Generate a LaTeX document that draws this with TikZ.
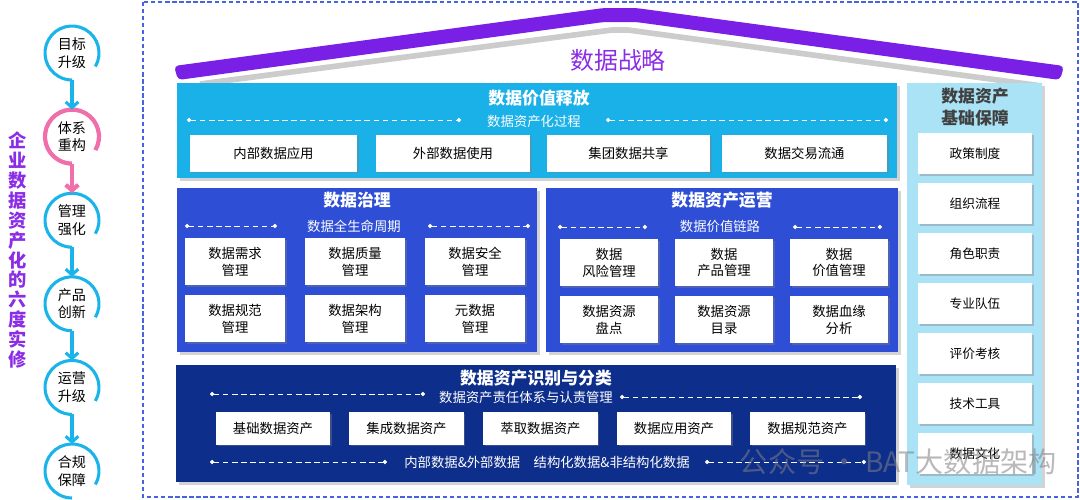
\documentclass[tikz,border=0pt]{standalone}
\usepackage{fontspec}
\setmainfont{Noto Sans CJK SC}
\usetikzlibrary{arrows.meta,shadows,positioning}

\definecolor{roofpurple}{RGB}{122,32,230}
\definecolor{titlepurple}{RGB}{140,45,230}
\definecolor{valuecyan}{RGB}{26,176,232}
\definecolor{govblue}{RGB}{46,78,214}
\definecolor{assetnavy}{RGB}{14,46,140}
\definecolor{baselight}{RGB}{170,226,246}
\definecolor{ringblue}{RGB}{27,180,234}
\definecolor{ringpink}{RGB}{240,110,170}
\definecolor{borderblue}{RGB}{70,100,225}

\begin{document}
\begin{tikzpicture}[
    x=0.025cm, y=-0.025cm,
    every node/.style={font=\fontsize{9.5}{12}\selectfont, text=black},
    >={Straight Barb[length=4pt,width=9pt]},
    panelhead/.style={text=white, font=\fontsize{12}{14}\selectfont\bfseries},
    flowlabel/.style={text=white, font=\fontsize{9.5}{12}\selectfont},
    flowline/.style={white, line width=0.7pt, dash pattern=on 4pt off 2.5pt,
        {Circle[length=3pt]}-{Circle[length=3pt]}},
    panelshadow/.style={drop shadow={shadow xshift=1.8pt, shadow yshift=-1.8pt, opacity=0.35}},
    item/.style={fill=white, align=center, inner sep=1pt,
        drop shadow={shadow xshift=1.2pt, shadow yshift=-1.2pt, opacity=0.4}},
    stage/.style={circle, minimum size=1.35cm, inner sep=0pt, outer sep=0pt,
        align=center, font=\fontsize{10}{12.5}\selectfont},
    ring/.style={line width=2.2pt, ringblue},
]
\useasboundingbox (0,0) rectangle (1080,500);

% outer frame
\draw[borderblue, line width=0.8pt, dash pattern=on 3pt off 2pt] (143,2) rectangle (1078,497);

% roof
\draw[gray!40, line width=4pt, line join=round] (200,84) -- (612,30) -- (628,30) -- (1042,86);
\fill[roofpurple, rounded corners=3pt] (174,66) -- (604,8) -- (636,8) -- (1064,66)
    -- (1060,80) -- (636,22) -- (604,22) -- (178,80) -- cycle;
\node[text=titlepurple, font=\fontsize{17}{20}\selectfont] (strategy) at (618,60) {数据战略};

% panels
\fill[valuecyan, panelshadow] (177,83) rectangle (897,178);
\fill[govblue, panelshadow] (177,188) rectangle (537,352);
\fill[govblue, panelshadow] (546,188) rectangle (898,352);
\fill[assetnavy, panelshadow] (176,365) rectangle (896,482);
\fill[baselight, panelshadow] (907,83) rectangle (1042,485);

% panel titles
\node[panelhead] (value) at (539,98) {数据价值释放};
\node[panelhead] (gov) at (357,200) {数据治理};
\node[panelhead] (ops) at (722,200) {数据资产运营};
\node[panelhead] (assets) at (536,378) {数据资产识别与分类};
\node[align=center, text=black!75, font=\fontsize{12}{15}\selectfont\bfseries] (base) at (975,107) {数据资产\\基础保障};

% dashed guide lines
\foreach \a/\b/\y in {187/461/120, 606/888/120, 185/277/226, 428/530/226,
                     558/647/227, 793/882/227, 210/425/394, 620/862/397,
                     210/387/462, 705/866/462} {
    \coordinate (dl-\a-\y) at (\a,\y);
    \coordinate (dr-\b-\y) at (\b,\y);
    \draw[flowline] (dl-\a-\y) -- (dr-\b-\y);
}
\node[flowlabel] (valuesub) at (534,121) {数据资产化过程};
\node[flowlabel] (govsub) at (354,226) {数据全生命周期};
\node[flowlabel] (opssub) at (720,226) {数据价值链路};
\node[flowlabel] (assetsub) at (526,397) {数据资产责任体系与认责管理};
\node[flowlabel] (assetfoot) at (547,462) {内部数据\&外部数据\quad 结构化数据\&非结构化数据};

% value release items
\foreach \name/\cx/\w/\txt in {va/273.5/4.175/内部数据应用, vb/453/3.85/外部数据使用,
                               vc/628.5/4.075/集团数据共享, vd/804.5/4.125/数据交易流通}
    \node[item, minimum width=\w cm, minimum height=0.9cm] (\name) at (\cx,153.5) {\txt};

% governance items
\foreach \name/\cx/\cy/\txt in {ga/235/261.5/数据需求\\管理, gb/355/261.5/数据质量\\管理,
                                gc/475/261.5/数据安全\\管理, gd/235/318.5/数据规范\\管理,
                                ge/355/318.5/数据架构\\管理, gf/475/318.5/元数据\\管理}
    \node[item, minimum width=2.5cm, minimum height=1.175cm] (\name) at (\cx,\cy) {\txt};

% operation items
\foreach \name/\cx/\cy/\txt in {oa/609/262.5/数据\\风险管理, ob/724/262.5/数据\\产品管理,
                                oc/839/262.5/数据\\价值管理, od/609/319.5/数据资源\\盘点,
                                oe/724/319.5/数据资源\\目录, of/839/319.5/数据血缘\\分析}
    \node[item, minimum width=2.45cm, minimum height=1.175cm] (\name) at (\cx,\cy) {\txt};

% asset items
\foreach \name/\cx/\txt in {aa/273/基础数据资产, ab/406.5/集成数据资产, ac/540.5/萃取数据资产,
                            ad/674/数据应用资产, ae/807.5/数据规范资产}
    \node[item, minimum width=2.85cm, minimum height=0.8cm] (\name) at (\cx,428.5) {\txt};

% foundation items
\foreach \txt [count=\k from 0] in {政策制度, 组织流程, 角色职责, 专业队伍, 评价考核, 技术工具, 数据文化}
    \node[item, font=\fontsize{9}{11}\selectfont, minimum width=2.85cm, minimum height=1.025cm]
        (b\k) at (975,153.5+50*\k) {\txt};

% six stages
\foreach \txt [count=\i] in {目标\\升级, 体系\\重构, 管理\\强化, 产品\\创新, 运营\\升级, 合规\\保障}
    \node[stage] (s\i) at (72,53+83.6*\i-83.6) {\txt};
\foreach \i in {1,3,4,5,6}
    \draw[ring] (s\i.-30) arc[start angle=-30, end angle=270, radius=0.675cm];
\draw[ring, ringpink, line width=3pt] (s2.-30) arc[start angle=-30, end angle=270, radius=0.675cm];
\foreach \i/\j in {1/2, 3/4, 4/5, 5/6}
    \draw[ring, ->] (s\i.south) -- (s\j.north);
\draw[ring, ringpink, line width=3pt, ->] (s2.south) -- (s3.north);

% vertical caption
\node[text=titlepurple, align=center, font=\fontsize{13}{14.2}\selectfont\bfseries] (caption) at (18,250)
    {企\\业\\数\\据\\资\\产\\化\\的\\六\\度\\实\\修};

% watermark
\node[anchor=west, text=gray, opacity=0.55, font=\fontsize{20}{22}\selectfont] (mark) at (735,462)
    {公众号 · BAT大数据架构};

\end{tikzpicture}
\end{document}
